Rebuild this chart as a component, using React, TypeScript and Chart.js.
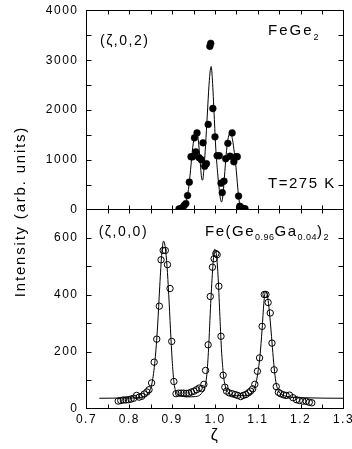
import React, { useEffect, useRef } from 'react';
import { Chart, registerables } from 'chart.js';

Chart.register(...registerables);

const FAMILY = '"Liberation Sans", Arial, Helvetica, sans-serif';

// (ζ,0,2) FeGe2 – measured points
const topPoints: [number, number][] = [
  [0.916, 10], [0.920, 18], [0.924, 35], [0.928, 80], [0.932, 120], [0.936, 280],
  [0.940, 550], [0.944, 1060], [0.948, 1060], [0.952, 1440], [0.955, 1160], [0.958, 1540],
  [0.963, 1040], [0.968, 1000], [0.972, 1340], [0.976, 870], [0.980, 920], [0.984, 1710],
  [0.988, 3280], [0.990, 3340], [0.995, 2030], [1.000, 1460], [1.005, 1080], [1.010, 1080],
  [1.014, 530], [1.017, 340], [1.021, 570], [1.025, 1020], [1.030, 1330], [1.035, 1070],
  [1.040, 1540], [1.044, 960], [1.049, 1060], [1.052, 1060], [1.055, 270], [1.058, 65],
  [1.062, 30], [1.066, 20], [1.070, 15],
];

// (ζ,0,2) FeGe2 – fitted curve
const topFit: [number, number][] = [
  [0.905, 0], [0.915, 5], [0.925, 40], [0.932, 150], [0.938, 400], [0.943, 800],
  [0.948, 1250], [0.953, 1500], [0.957, 1560], [0.961, 1400], [0.965, 1000], [0.969, 620],
  [0.971, 590], [0.974, 800], [0.978, 1300], [0.982, 1900], [0.986, 2500], [0.989, 2800],
  [0.991, 2875], [0.994, 2600], [0.998, 1900], [1.002, 1200], [1.006, 750], [1.010, 400],
  [1.013, 200], [1.015, 150], [1.018, 250], [1.022, 650], [1.026, 1100], [1.030, 1400],
  [1.034, 1520], [1.037, 1530], [1.041, 1400], [1.045, 1150], [1.049, 850], [1.053, 450],
  [1.056, 200], [1.060, 50], [1.065, 5], [1.070, 0], [1.135, 0],
];

// (ζ,0,0) Fe(Ge0.96Ga0.04)2 – measured points
const bottomPoints: [number, number][] = [
  [0.774, 26], [0.780, 28], [0.786, 30], [0.792, 30], [0.798, 31], [0.804, 33], [0.810, 36],
  [0.817, 46], [0.823, 40], [0.829, 43], [0.835, 51], [0.841, 58], [0.846, 66], [0.852, 90],
  [0.858, 163], [0.864, 244], [0.870, 360], [0.874, 523], [0.879, 556], [0.884, 556],
  [0.889, 506], [0.895, 422], [0.899, 236], [0.904, 95], [0.909, 52], [0.915, 54],
  [0.921, 54], [0.927, 54], [0.933, 53], [0.939, 54], [0.945, 58], [0.951, 61], [0.957, 66],
  [0.963, 72], [0.969, 70], [0.974, 85], [0.978, 134], [0.984, 224], [0.989, 394],
  [0.994, 497], [0.998, 527], [1.002, 545], [1.005, 541], [1.009, 430], [1.014, 254],
  [1.019, 117], [1.023, 75], [1.027, 61], [1.033, 55], [1.040, 52], [1.047, 49], [1.053, 46],
  [1.060, 42], [1.066, 46], [1.072, 49], [1.078, 55], [1.083, 61], [1.088, 69], [1.093, 85],
  [1.099, 131], [1.104, 178], [1.110, 289], [1.115, 401], [1.119, 401], [1.124, 373],
  [1.129, 336], [1.133, 230], [1.138, 136], [1.143, 77], [1.148, 57], [1.153, 52],
  [1.160, 48], [1.166, 46], [1.174, 47], [1.182, 38], [1.190, 31], [1.197, 28], [1.205, 26],
  [1.213, 25], [1.220, 22], [1.226, 20],
];

// (ζ,0,0) Fe(Ge0.96Ga0.04)2 – fitted curve
const bottomFit: [number, number][] = [
  [0.730, 36], [0.800, 37], [0.830, 40], [0.845, 55], [0.853, 90], [0.860, 170], [0.866, 290],
  [0.871, 430], [0.876, 550], [0.880, 589], [0.884, 565], [0.888, 500], [0.892, 400],
  [0.896, 280], [0.900, 170], [0.904, 95], [0.909, 58], [0.918, 46], [0.935, 41], [0.955, 42],
  [0.968, 52], [0.976, 75], [0.981, 120], [0.985, 210], [0.990, 370], [0.995, 500],
  [0.999, 560], [1.003, 545], [1.007, 470], [1.011, 340], [1.015, 210], [1.020, 115],
  [1.025, 72], [1.032, 55], [1.050, 45], [1.070, 45], [1.085, 55], [1.094, 80], [1.100, 125],
  [1.105, 185], [1.110, 280], [1.114, 370], [1.118, 413], [1.122, 400], [1.126, 355],
  [1.130, 290], [1.134, 215], [1.138, 145], [1.142, 95], [1.147, 65], [1.155, 50],
  [1.170, 42], [1.200, 38], [1.300, 36],
];

const xRange = [0.7, 1.3];
const topRange = [0, 4000];
const bottomRange = [0, 700];

const toXY = (arr: [number, number][]) => arr.map(([x, y]) => ({ x, y }));

type Part = { t: string; sub?: boolean };

function drawRich(
  ctx: CanvasRenderingContext2D, x: number, yc: number, parts: Part[],
  size: number, spacing: number, subSize: number, subSpacing: number, subDrop: number,
) {
  const base = yc + size * 0.36;
  let cx = x;
  ctx.textAlign = 'left';
  ctx.textBaseline = 'alphabetic';
  for (const p of parts) {
    const sz = p.sub ? subSize : size;
    ctx.font = `${sz}px ${FAMILY}`;
    (ctx as any).letterSpacing = `${p.sub ? subSpacing : spacing}px`;
    ctx.fillText(p.t, cx, base + (p.sub ? subDrop : 0));
    cx += ctx.measureText(p.t).width;
  }
}

const panelPlugin = {
  id: 'panelFrame',
  beforeDraw(chart: any) {
    chart.ctx.letterSpacing = '1.5px';
  },
  afterDraw(chart: any) {
    const ctx: CanvasRenderingContext2D = chart.ctx;
    const { left, right, top, bottom } = chart.chartArea;
    const xs = chart.scales.x;
    const yT = chart.scales.yTop;
    const yB = chart.scales.yBot;
    ctx.save();
    (ctx as any).letterSpacing = '0px';
    ctx.strokeStyle = '#000';
    ctx.lineWidth = 1;
    const seg = (x1: number, y1: number, x2: number, y2: number) => {
      ctx.beginPath();
      ctx.moveTo(x1, y1);
      ctx.lineTo(x2, y2);
      ctx.stroke();
    };
    ctx.strokeRect(left, top, right - left, bottom - top);
    const mid = yT.bottom;
    seg(left, mid, right, mid);

    // x ticks, inward on each panel edge
    const xl = 4;
    for (const t of xs.ticks) {
      if (t.value <= xRange[0] + 1e-9 || t.value >= xRange[1] - 1e-9) continue;
      const px = Math.round(xs.getPixelForValue(t.value)) + 0.5;
      seg(px, yT.top, px, yT.top + xl);
      seg(px, mid, px, mid - xl);
      seg(px, mid, px, mid + xl);
      seg(px, yB.bottom, px, yB.bottom - xl);
    }
    // y ticks, inward on both sides
    const yl = 5;
    for (const sc of [yT, yB]) {
      for (const t of sc.ticks) {
        if (t.value <= sc.min || t.value >= sc.max) continue;
        const py = Math.round(sc.getPixelForValue(t.value)) + 0.5;
        seg(left, py, left + yl, py);
        seg(right, py, right - yl, py);
      }
    }

    ctx.fillStyle = '#000';
    // y axis title
    ctx.save();
    ctx.font = `15px ${FAMILY}`;
    (ctx as any).letterSpacing = '1.8px';
    ctx.translate(21, (top + bottom) / 2 + 2);
    ctx.rotate(-Math.PI / 2);
    ctx.textAlign = 'center';
    ctx.textBaseline = 'middle';
    ctx.fillText('Intensity (arb. units)', 0, 0);
    ctx.restore();

    // panel annotations
    drawRich(ctx, xs.getPixelForValue(0.7315), yT.getPixelForValue(3417),
      [{ t: '(ζ,0,2)' }], 14, 1.5, 9, 0.5, 0);
    drawRich(ctx, xs.getPixelForValue(1.1238), yT.getPixelForValue(3620),
      [{ t: 'FeGe' }, { t: '2', sub: true }], 15, 2, 9, 0.5, 5);
    drawRich(ctx, xs.getPixelForValue(1.1238), yT.getPixelForValue(543),
      [{ t: 'T=275 K' }], 15, 1.5, 9, 0.5, 0);
    drawRich(ctx, xs.getPixelForValue(0.7285), yB.getPixelForValue(623),
      [{ t: '(ζ,0,0)' }], 14, 1.5, 9, 0.5, 0);
    drawRich(ctx, xs.getPixelForValue(0.9767), yB.getPixelForValue(626),
      [{ t: 'Fe(Ge' }, { t: '0.96', sub: true }, { t: 'Ga' }, { t: '0.04', sub: true },
       { t: ')' }, { t: '2', sub: true }], 15, 1.5, 9, 0.5, 4);

    ctx.restore();
    ctx.letterSpacing = '0px';
  },
};

const isMultiple = (v: number, step: number) => Math.abs(v / step - Math.round(v / step)) < 1e-6;

export default function App() {
  const ref = useRef<HTMLCanvasElement>(null);

  useEffect(() => {
    if (!ref.current) return;
    const tickFont = { family: FAMILY, size: 12 };
    const noGrid = { display: false, drawTicks: false };
    const chart = new Chart(ref.current, {
      type: 'scatter',
      data: {
        datasets: [
          {
            data: toXY(topFit), yAxisID: 'yTop', showLine: true, pointRadius: 0,
            borderColor: '#000', borderWidth: 1, cubicInterpolationMode: 'monotone',
          } as any,
          {
            data: toXY(topPoints), yAxisID: 'yTop', showLine: false, pointRadius: 3.4,
            pointBackgroundColor: '#000', pointBorderColor: '#000', pointBorderWidth: 0.5,
          },
          {
            data: toXY(bottomFit), yAxisID: 'yBot', showLine: true, pointRadius: 0,
            borderColor: '#000', borderWidth: 1, cubicInterpolationMode: 'monotone',
          } as any,
          {
            data: toXY(bottomPoints), yAxisID: 'yBot', showLine: false, pointRadius: 3.2,
            pointBackgroundColor: 'rgba(0,0,0,0)', pointBorderColor: '#000', pointBorderWidth: 1,
          },
        ],
      },
      options: {
        animation: false,
        responsive: false,
        devicePixelRatio: 1,
        events: [],
        layout: { padding: { left: 0, right: 8.5, top: 10.5, bottom: 0 } },
        plugins: { legend: { display: false }, tooltip: { enabled: false } },
        scales: {
          x: {
            type: 'linear', position: 'bottom', min: xRange[0], max: xRange[1],
            grid: noGrid, border: { display: false },
            ticks: {
              stepSize: 0.05, autoSkip: false, maxRotation: 0, padding: 4, color: '#000',
              font: tickFont,
              callback: (v: any) => (isMultiple(Number(v), 0.1) ? Number(v).toFixed(1) : ''),
            },
            title: {
              display: true, text: 'ζ', color: '#000', font: { family: FAMILY, size: 16 },
              padding: { top: 0, bottom: 4 },
            },
            afterFit: (s: any) => { s.height = 40.5; s.paddingLeft = 0; s.paddingRight = 0; },
          },
          yTop: {
            type: 'linear', position: 'left', stack: 'panels', stackWeight: 1, weight: 2,
            min: topRange[0], max: topRange[1],
            grid: noGrid, border: { display: false },
            ticks: {
              stepSize: 500, autoSkip: false, padding: 8, color: '#000', font: tickFont,
              callback: (v: any) => (isMultiple(Number(v), 1000) ? String(v) : ''),
            },
            afterFit: (s: any) => { s.width = 86.5; s.paddingTop = 0; s.paddingBottom = 0; },
          },
          yBot: {
            type: 'linear', position: 'left', stack: 'panels', stackWeight: 1, weight: 1,
            min: bottomRange[0], max: bottomRange[1],
            grid: noGrid, border: { display: false },
            ticks: {
              stepSize: 100, autoSkip: false, padding: 8, color: '#000', font: tickFont,
              callback: (v: any) => (isMultiple(Number(v), 200) ? String(v) : ''),
            },
            afterFit: (s: any) => { s.width = 86.5; s.paddingTop = 0; s.paddingBottom = 0; },
          },
        } as any,
      },
      plugins: [panelPlugin],
    });
    return () => chart.destroy();
  }, []);

  return (
    <div style={{ position: 'absolute', left: 0, top: 0, width: 352, height: 449 }}>
      <canvas ref={ref} width={352} height={449} style={{ display: 'block' }} />
    </div>
  );
}
